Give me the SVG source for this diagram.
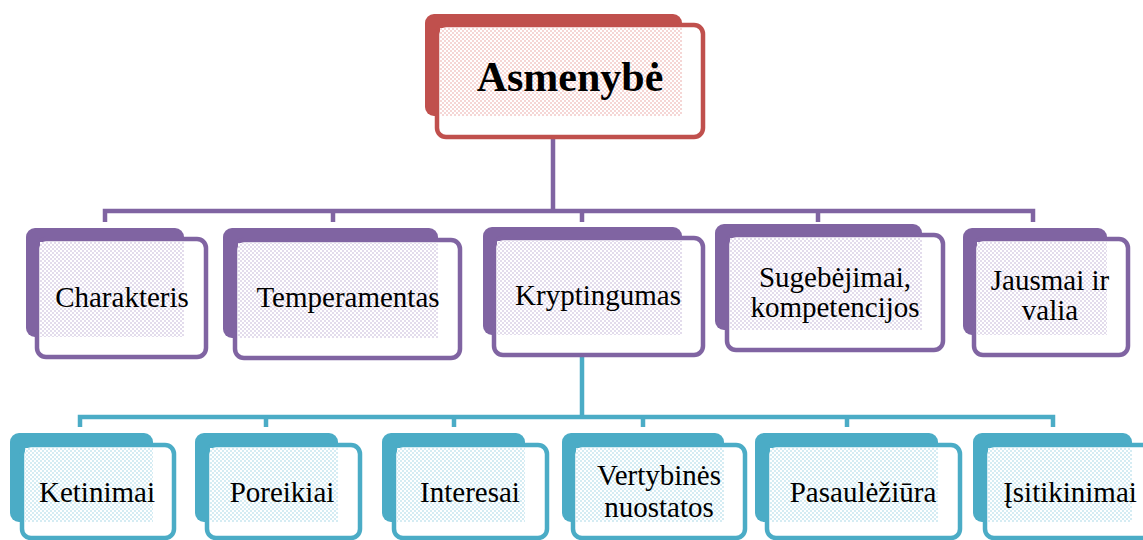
<svg xmlns="http://www.w3.org/2000/svg" width="1143" height="540" viewBox="0 0 1143 540">
<defs>
<pattern id="pr" width="4" height="4" patternUnits="userSpaceOnUse"><rect width="4" height="4" fill="#fff"/><rect width="2" height="2" fill="#f5d6d5"/><rect x="2" y="2" width="2" height="2" fill="#f5d6d5"/></pattern>
<pattern id="pp" width="4" height="4" patternUnits="userSpaceOnUse"><rect width="4" height="4" fill="#fff"/><rect width="2" height="2" fill="#e3dcec"/><rect x="2" y="2" width="2" height="2" fill="#e3dcec"/></pattern>
<pattern id="pt" width="4" height="4" patternUnits="userSpaceOnUse"><rect width="4" height="4" fill="#fff"/><rect width="2" height="2" fill="#d5ecf3"/><rect x="2" y="2" width="2" height="2" fill="#d5ecf3"/></pattern>
</defs>
<style>
.br{fill:#C0504D}.bp{fill:#8064A2}.bt{fill:#4BACC6}
.fr{fill:#fff;stroke:#C0504D;stroke-width:4.5}
.fp{fill:#fff;stroke:#8064A2;stroke-width:4.5}
.ft{fill:#fff;stroke:#4BACC6;stroke-width:4.5}
.t{font-family:"Liberation Serif","Times New Roman",serif;font-size:29px;fill:#000;text-anchor:middle}
.tb{font-family:"Liberation Serif","Times New Roman",serif;font-size:42px;font-weight:bold;fill:#000;text-anchor:middle}
.cp{fill:none;stroke:#8064A2;stroke-width:4.5}
.ct{fill:none;stroke:#4BACC6;stroke-width:4.5}
</style>
<g id="connectors">
<path class="cp" d="M553,137 V211 M105,222 V211 H1033 V222 M333,211 V222 M582,211 V222 M818,211 V222"/>
<path class="ct" d="M582,355 V417 M80,427 V417 H1053 V427 M266,417 V427 M454,417 V427 M643,417 V427 M847,417 V427"/>
</g>
<g id="asmenybe">
<rect class="br" x="425" y="14" width="257" height="102" rx="9"/>
<rect class="fr" x="437" y="25" width="266" height="112" rx="9"/>
<rect fill="url(#pr)" x="440" y="28" width="242" height="88"/>
<text class="tb" x="570" y="91">Asmenybė</text>
</g>
<g id="charakteris">
<rect class="bp" x="26" y="228" width="158" height="109" rx="9"/>
<rect class="fp" x="37" y="239" width="169" height="118" rx="9"/>
<rect fill="url(#pp)" x="40" y="242" width="144" height="95"/>
<text class="t" x="122" y="307">Charakteris</text>
</g>
<g id="temperamentas">
<rect class="bp" x="223" y="228" width="215" height="110" rx="9"/>
<rect class="fp" x="235" y="240" width="225" height="118" rx="9"/>
<rect fill="url(#pp)" x="238" y="243" width="200" height="95"/>
<text class="t" x="348" y="307">Temperamentas</text>
</g>
<g id="kryptingumas">
<rect class="bp" x="483" y="227" width="199" height="108" rx="9"/>
<rect class="fp" x="494" y="238" width="209" height="117" rx="9"/>
<rect fill="url(#pp)" x="497" y="241" width="185" height="94"/>
<text class="t" x="598" y="305">Kryptingumas</text>
</g>
<g id="sugebejimai">
<rect class="bp" x="715" y="224" width="207" height="106" rx="9"/>
<rect class="fp" x="727" y="235" width="216" height="115" rx="9"/>
<rect fill="url(#pp)" x="730" y="238" width="192" height="92"/>
<text class="t" x="835" y="287">Sugebėjimai,</text>
<text class="t" x="835" y="317">kompetencijos</text>
</g>
<g id="jausmai">
<rect class="bp" x="963" y="228" width="144" height="107" rx="9"/>
<rect class="fp" x="974" y="239" width="154" height="116" rx="9"/>
<rect fill="url(#pp)" x="977" y="242" width="130" height="93"/>
<text class="t" x="1050" y="290">Jausmai ir</text>
<text class="t" x="1050" y="320">valia</text>
</g>
<g id="ketinimai">
<rect class="bt" x="10" y="433" width="143" height="89" rx="9"/>
<rect class="ft" x="22" y="445" width="152" height="93" rx="9"/>
<rect fill="url(#pt)" x="25" y="448" width="128" height="74"/>
<text class="t" x="97" y="502">Ketinimai</text>
</g>
<g id="poreikiai">
<rect class="bt" x="195" y="433" width="143" height="89" rx="9"/>
<rect class="ft" x="207" y="445" width="153" height="93" rx="9"/>
<rect fill="url(#pt)" x="210" y="448" width="128" height="74"/>
<text class="t" x="282" y="502">Poreikiai</text>
</g>
<g id="interesai">
<rect class="bt" x="382" y="433" width="143" height="89" rx="9"/>
<rect class="ft" x="394" y="445" width="153" height="93" rx="9"/>
<rect fill="url(#pt)" x="397" y="448" width="128" height="74"/>
<text class="t" x="470" y="502">Interesai</text>
</g>
<g id="vertybines">
<rect class="bt" x="562" y="433" width="162" height="89" rx="9"/>
<rect class="ft" x="573" y="445" width="172" height="93" rx="9"/>
<rect fill="url(#pt)" x="576" y="448" width="148" height="74"/>
<text class="t" x="659" y="485">Vertybinės</text>
<text class="t" x="659" y="517">nuostatos</text>
</g>
<g id="pasauleziura">
<rect class="bt" x="755" y="433" width="183" height="89" rx="9"/>
<rect class="ft" x="767" y="445" width="193" height="93" rx="9"/>
<rect fill="url(#pt)" x="770" y="448" width="168" height="74"/>
<text class="t" x="863" y="502">Pasaulėžiūra</text>
</g>
<g id="isitikinimai">
<rect class="bt" x="973" y="433" width="159" height="89" rx="9"/>
<rect class="ft" x="985" y="445" width="168" height="93" rx="9"/>
<rect fill="url(#pt)" x="988" y="448" width="144" height="74"/>
<text class="t" x="1070" y="502">Įsitikinimai</text>
</g>
</svg>
